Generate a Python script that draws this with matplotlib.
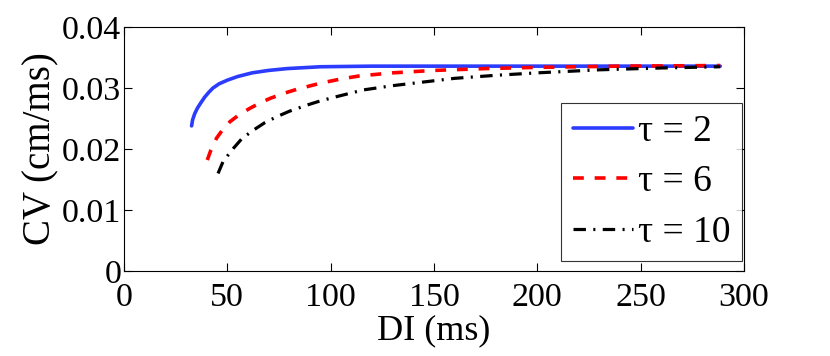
import matplotlib
matplotlib.use("Agg")
import matplotlib.pyplot as plt

# CV restitution curves
DI_TAU2 = [32.7, 33.2, 34.2, 35.5, 37, 39, 41, 43, 46, 50, 55, 62, 70, 79,
           95, 120, 160, 200, 250, 288.5]
CV_TAU2 = [0.0238, 0.0248, 0.0258, 0.0267, 0.0275, 0.0285, 0.0293, 0.0300,
           0.0307, 0.0313, 0.0319, 0.0325, 0.0329, 0.0332, 0.0335, 0.0336,
           0.0336, 0.0336, 0.0336, 0.0336]

DI_TAU6 = [40.3, 42, 44.8, 48, 51.3, 56, 61, 66, 70.6, 77, 83.6, 95, 105,
           114, 130, 150, 175, 200, 240, 288.5]
CV_TAU6 = [0.0182, 0.0198, 0.0218, 0.0233, 0.0245, 0.0257, 0.0267, 0.0276,
           0.0283, 0.0291, 0.0298, 0.0308, 0.0315, 0.0320, 0.0325, 0.0329,
           0.0332, 0.0334, 0.0336, 0.0337]

DI_TAU10 = [45.5, 48, 52.9, 57, 62.6, 68, 73.9, 80, 88.4, 95, 102.9, 115.8,
            130, 145, 160, 180, 200, 230, 260, 288.5]
CV_TAU10 = [0.0160, 0.0180, 0.0201, 0.0217, 0.0231, 0.0243, 0.0253, 0.0262,
            0.0272, 0.0279, 0.0286, 0.0297, 0.0304, 0.0310, 0.0316, 0.0321,
            0.0325, 0.0330, 0.0333, 0.0335]

X_TICKS = [0, 50, 100, 150, 200, 250, 300]
Y_TICKS = [0, 0.01, 0.02, 0.03, 0.04]
Y_TICKLABELS = ["0", "0.01", "0.02", "0.03", "0.04"]

plt.rcParams["font.family"] = ["Liberation Serif", "DejaVu Serif"]

fig = plt.figure(figsize=(8.3, 3.56), dpi=100)
ax = fig.add_axes([0.1494, 0.2388, 0.747, 0.685])

ax.plot(DI_TAU2, CV_TAU2, color="#2b3cff", lw=2.6, label="τ = 2",
        solid_capstyle="round")
ax.plot(DI_TAU6, CV_TAU6, color="#ff0000", lw=2.6, ls=(0, (3.0, 3.0)),
        label="τ = 6")
ax.plot(DI_TAU10, CV_TAU10, color="black", lw=2.3,
        ls=(0, (3.9, 2.3, 0.65, 2.3)), label="τ = 10")

ax.set_xlim(0, 300)
ax.set_ylim(0, 0.04)
ax.set_xticks(X_TICKS)
ax.set_yticks(Y_TICKS)
ax.set_yticklabels(Y_TICKLABELS)
ax.tick_params(direction="in", length=6, width=0.8, top=True, right=True,
               labelsize=24.5, pad=2)
ax.tick_params(axis="x", pad=8)
for s in ax.spines.values():
    s.set_linewidth(0.8)

ax.set_xlabel("DI (ms)", fontsize=26, labelpad=1)
ax.set_ylabel("CV (cm/ms)", fontsize=28, labelpad=2)

leg = ax.legend(loc="lower right", bbox_to_anchor=(0.9968, 0.041),
                fontsize=27, frameon=True, fancybox=False, handlelength=1.6,
                handletextpad=0.15, borderpad=0.3, labelspacing=0.42,
                borderaxespad=0)
leg.get_frame().set_edgecolor("black")
leg.get_frame().set_linewidth(0.8)

fig.savefig("out.png", dpi=100)
